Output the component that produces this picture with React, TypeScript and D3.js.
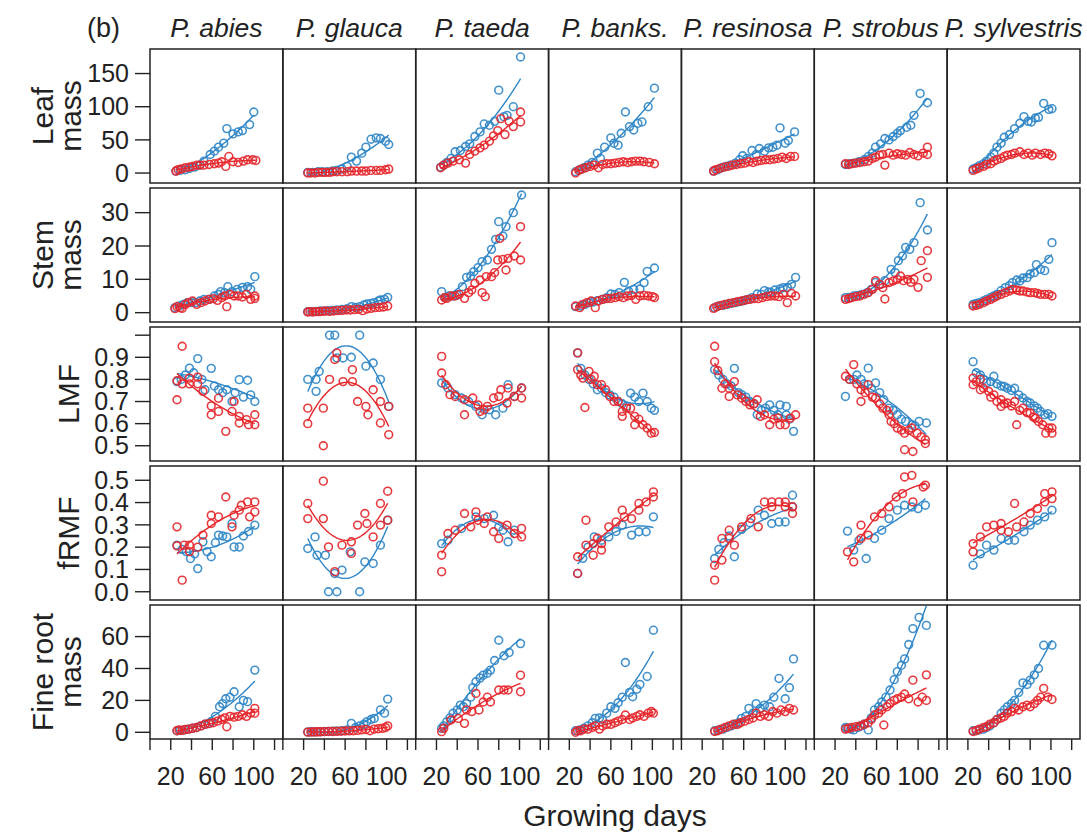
import React from "react";
import * as d3 from "d3";

// ---- Panel grid labels ----
const species = ["P. abies", "P. glauca", "P. taeda", "P. banks.", "P. resinosa", "P. strobus", "P. sylvestris"];
const rowTitles = [["Leaf", "mass"], ["Stem", "mass"], ["LMF"], ["fRMF"], ["Fine root", "mass"]];
const xTicks = [0, 20, 40, 60, 80, 100, 120];
const xTickLabels = [20, 60, 100];
const leafTicks = [0, 50, 100, 150];
const stemTicks = [0, 10, 20, 30];
const lmfTicks = [0.5, 0.6, 0.7, 0.8, 0.9, 1.0];
const frmfTicks = [0.0, 0.1, 0.2, 0.3, 0.4, 0.5];
const rootTicks = [0, 20, 40, 60];

type Pt = [number, number];

// ---- Leaf mass ----
const leafAbiesB: Pt[] = [[25,3],[29,4],[34,5],[38,7],[43,9],[48,12],[52,18],[58,28],[62,33],[66,39],[71,45],[74,67],[80,59],[85,62],[89,64],[96,73],[100,92]];
const leafAbiesR: Pt[] = [[25,3],[27,5],[30,6],[34,8],[38,9],[41,10],[45,12],[48,12],[52,12],[57,13],[62,14],[66,15],[69,17],[73,10],[76,25],[80,17],[85,16],[90,18],[94,20],[99,20],[102,19]];
const leafGlaucaB: Pt[] = [[24,1],[29,1],[34,2],[38,2],[43,2],[48,3],[52,4],[57,6],[62,10],[66,24],[71,18],[76,30],[80,39],[85,51],[90,53],[94,52],[99,48],[102,43]];
const leafGlaucaR: Pt[] = [[24,0],[27,0],[31,0],[34,1],[38,1],[41,1],[45,1],[48,2],[52,2],[57,2],[62,2],[66,3],[71,3],[76,3],[80,3],[85,4],[90,4],[94,4],[99,5],[102,6]];
const leafTaedaB: Pt[] = [[24,9],[27,12],[30,16],[34,22],[38,32],[43,34],[48,40],[52,44],[57,55],[62,62],[66,74],[71,72],[76,78],[80,125],[85,85],[88,87],[94,100],[101,175]];
const leafTaedaR: Pt[] = [[24,8],[27,12],[31,15],[36,18],[42,20],[48,15],[52,28],[57,33],[62,38],[66,42],[71,48],[75,56],[79,64],[82,82],[86,58],[90,78],[94,70],[101,92],[101,77]];
const leafBanksB: Pt[] = [[26,2],[30,5],[34,8],[38,12],[42,16],[47,30],[50,22],[54,39],[60,53],[63,45],[67,42],[70,60],[74,92],[78,70],[82,65],[86,75],[90,77],[96,100],[102,128]];
const leafBanksR: Pt[] = [[26,0],[29,4],[32,6],[36,8],[40,10],[44,12],[48,8],[52,13],[56,14],[60,14],[64,15],[68,16],[72,17],[76,16],[80,17],[84,18],[88,18],[92,17],[97,16],[102,14]];
const leafResinosaB: Pt[] = [[31,3],[35,5],[39,8],[43,10],[47,12],[52,15],[56,20],[59,26],[63,22],[68,34],[72,28],[75,37],[80,33],[84,38],[88,39],[92,42],[95,68],[100,45],[103,49],[109,62]];
const leafResinosaR: Pt[] = [[31,3],[33,5],[37,7],[41,9],[45,10],[49,12],[53,13],[57,14],[61,15],[65,17],[69,16],[73,18],[77,19],[81,20],[85,20],[89,21],[93,22],[97,24],[101,22],[105,25],[109,25]];
const leafStrobusB: Pt[] = [[30,13],[34,14],[38,15],[43,17],[48,20],[52,25],[56,30],[59,39],[64,44],[68,52],[72,50],[76,55],[80,60],[83,64],[89,69],[93,72],[96,87],[102,120],[109,106]];
const leafStrobusR: Pt[] = [[30,14],[33,13],[36,14],[40,15],[44,16],[48,17],[52,18],[56,22],[59,24],[63,27],[66,28],[68,12],[72,30],[76,27],[80,29],[84,28],[88,27],[92,31],[96,28],[100,26],[105,30],[109,39],[109,28]];
const leafSylvestrisB: Pt[] = [[25,6],[28,8],[31,11],[35,14],[38,18],[42,24],[45,30],[48,39],[52,45],[55,54],[60,58],[65,67],[70,75],[74,85],[78,78],[81,77],[85,83],[88,84],[93,105],[98,96],[101,97]];
const leafSylvestrisR: Pt[] = [[25,4],[28,6],[31,8],[35,10],[38,13],[42,14],[45,18],[48,20],[52,22],[55,25],[58,27],[62,28],[65,30],[70,32],[74,28],[78,30],[82,27],[85,30],[90,28],[94,30],[98,29],[101,26]];

// ---- Stem mass ----
const stemAbiesB: Pt[] = [[24,1.5],[28,2],[32,2.5],[36,3],[40,3],[44,3],[48,3.5],[52,4],[57,4],[62,5],[66,5.5],[68,6.3],[72,6],[75,7.8],[79,6.3],[84,7],[89,7.6],[94,7.8],[97,7],[101,10.8]];
const stemAbiesR: Pt[] = [[24,1.2],[26,1.8],[29,1.5],[31,1.3],[34,2.5],[37,3],[41,3.5],[45,2.5],[49,3],[53,3.5],[57,4],[61,4.2],[65,3.7],[69,4.5],[72,5],[74,1.8],[77,5.5],[81,5],[85,5],[89,4.7],[93,5.5],[97,4],[101,4.3],[101,5]];
const stemGlaucaB: Pt[] = [[24,0.3],[28,0.3],[32,0.4],[36,0.5],[40,0.5],[44,0.6],[48,0.7],[52,0.8],[57,1],[62,1.2],[66,1.8],[70,1.6],[74,1.8],[78,2.3],[81,2.6],[85,2.8],[88,3],[92,3.5],[94,3.8],[98,4],[101,4.6]];
const stemGlaucaR: Pt[] = [[24,0.2],[26,0.3],[29,0.2],[32,0.3],[35,0.3],[38,0.4],[41,0.5],[45,0.4],[49,0.5],[53,0.6],[57,0.7],[61,0.8],[65,0.8],[69,0.9],[73,1],[77,0.6],[81,1.1],[85,1.3],[89,1.5],[93,1.6],[97,1.7],[101,2]];
const stemTaedaB: Pt[] = [[25,6.3],[28,4.5],[32,5],[36,5],[40,5.3],[45,7.8],[49,10.6],[53,11],[56,12.3],[60,13.5],[64,15.3],[69,15.8],[73,19],[77,22],[80,27.3],[84,23],[87,25.8],[94,30],[102,35.3]];
const stemTaedaR: Pt[] = [[25,3.8],[28,4.5],[30,4.3],[34,5],[38,5],[42,5.5],[47,4.3],[51,6],[54,6.8],[57,8.8],[62,9.8],[64,6],[67,4.8],[68,10.8],[73,10.8],[76,12],[79,15.8],[81,22.3],[84,16],[87,12.8],[89,16.3],[95,17],[101,25.8],[101,15.8]];
const stemBanksB: Pt[] = [[26,1.8],[31,2],[35,2.5],[39,3],[43,3.2],[47,3.6],[52,4],[56,4.5],[60,5.6],[64,5.5],[68,6],[73,9.1],[77,6.5],[82,7],[88,7.1],[92,9],[95,12.4],[102,13.4]];
const stemBanksR: Pt[] = [[26,2],[30,1.5],[33,2.5],[37,3],[41,3.5],[45,1.5],[48,3.5],[52,4],[56,4.2],[60,4.3],[64,4.5],[68,4.8],[72,4.5],[76,5],[80,5.2],[84,4],[88,5],[92,5.2],[96,5],[100,4.8],[102,4.5]];
const stemResinosaB: Pt[] = [[32,1.5],[36,2],[40,2.2],[44,2.5],[48,2.8],[52,3],[56,3.3],[60,3.6],[64,4],[68,4.5],[73,5.6],[77,5.5],[80,6.6],[84,6.2],[86,6.1],[90,6.8],[95,7.1],[98,7.5],[102,7.6],[106,8.5],[110,10.6]];
const stemResinosaR: Pt[] = [[31,1.3],[34,1.8],[38,2.2],[42,2.5],[46,2.8],[50,3],[54,3.3],[58,3.5],[62,3.8],[66,4],[70,4.2],[74,4.2],[78,4.5],[82,4.8],[86,5],[90,5],[94,4.8],[98,5.5],[102,3],[106,5.8],[110,5]];
const stemStrobusB: Pt[] = [[30,4.5],[34,4.6],[38,5],[42,5.2],[46,5.5],[51,6],[55,7],[59,9.1],[63,8.5],[68,9.6],[74,13],[78,12],[81,15.6],[85,17],[88,19.6],[92,19],[96,21],[102,33],[109,24.8]];
const stemStrobusR: Pt[] = [[30,4],[33,4.2],[36,4.5],[40,4.8],[44,5],[48,5.5],[52,6],[56,7],[59,9.6],[63,8.5],[66,7.5],[68,4.1],[72,9],[76,9.5],[80,10],[83,11],[86,9.6],[90,10],[93,9.1],[96,10],[100,7.6],[103,15.6],[109,18.6],[109,10.6]];
const stemSylvestrisB: Pt[] = [[25,2.5],[28,2.8],[31,3],[35,3.5],[38,4],[42,4.6],[45,5],[48,5.5],[52,6.6],[56,7.5],[60,8.1],[63,9],[67,9.8],[70,9.5],[73,10.4],[77,10.5],[80,11.6],[84,12],[86,14.4],[90,13],[94,12.6],[98,16],[101,21]];
const stemSylvestrisR: Pt[] = [[25,2],[28,2.2],[31,2.5],[35,3],[38,3.5],[42,4],[45,4.5],[48,5],[52,5.5],[56,6],[60,6.5],[63,7],[67,6.8],[70,6.5],[73,6.5],[77,6.2],[80,6],[84,6],[87,5.8],[90,5.5],[94,5.5],[98,5.5],[101,5]];

// ---- Leaf mass fraction ----
const lmfAbiesB: Pt[] = [[26,0.79],[30,0.8],[34,0.82],[38,0.851],[42,0.83],[46,0.894],[50,0.8],[53,0.753],[59,0.85],[62,0.77],[66,0.753],[70,0.74],[74,0.753],[79,0.7],[82,0.74],[86,0.799],[90,0.72],[94,0.796],[97,0.73],[101,0.7]];
const lmfAbiesR: Pt[] = [[26,0.708],[26,0.794],[31,0.95],[31,0.78],[38,0.806],[38,0.78],[46,0.81],[46,0.78],[51,0.746],[59,0.64],[59,0.68],[66,0.655],[66,0.715],[73,0.565],[79,0.655],[81,0.7],[86,0.633],[86,0.603],[93,0.618],[95,0.595],[101,0.595],[101,0.64]];
const lmfGlaucaB: Pt[] = [[24,0.8],[32,0.8],[32,0.746],[35,0.836],[45,1.0],[50,1.0],[52,0.897],[58,0.897],[66,0.9],[74,1.0],[80,0.86],[87,0.874],[94,0.8],[102,0.678]];
const lmfGlaucaR: Pt[] = [[24,0.67],[24,0.6],[39,0.67],[39,0.5],[45,0.8],[50,0.89],[52,0.92],[58,0.79],[67,0.79],[67,0.844],[72,0.7],[80,0.678],[82,0.64],[87,0.753],[94,0.603],[94,0.7],[102,0.55],[102,0.678]];
const lmfTaedaB: Pt[] = [[25,0.784],[31,0.761],[38,0.731],[44,0.716],[51,0.7],[58,0.678],[64,0.64],[71,0.663],[77,0.64],[84,0.67],[89,0.776],[95,0.723],[102,0.761]];
const lmfTaedaR: Pt[] = [[25,0.904],[25,0.829],[29,0.776],[33,0.731],[38,0.723],[47,0.708],[47,0.64],[55,0.716],[60,0.685],[62,0.655],[66,0.663],[69,0.678],[75,0.716],[80,0.723],[82,0.753],[88,0.693],[89,0.761],[95,0.723],[102,0.761],[102,0.716]];
const lmfBanksB: Pt[] = [[28,0.92],[31,0.85],[35,0.82],[39,0.8],[43,0.78],[47,0.753],[51,0.76],[55,0.74],[59,0.73],[63,0.72],[67,0.7],[71,0.69],[75,0.678],[79,0.738],[83,0.72],[87,0.7],[91,0.738],[95,0.7],[99,0.67],[102,0.66]];
const lmfBanksR: Pt[] = [[28,0.92],[28,0.844],[31,0.82],[33,0.806],[35,0.673],[39,0.836],[41,0.8],[44,0.814],[47,0.776],[51,0.776],[55,0.753],[59,0.723],[63,0.7],[67,0.7],[71,0.655],[71,0.633],[75,0.67],[79,0.67],[83,0.633],[83,0.595],[87,0.62],[91,0.595],[95,0.58],[99,0.557],[102,0.56]];
const lmfResinosaB: Pt[] = [[32,0.844],[36,0.82],[40,0.8],[44,0.78],[48,0.77],[51,0.85],[55,0.74],[58,0.731],[62,0.72],[66,0.7],[70,0.69],[73,0.64],[77,0.66],[81,0.67],[85,0.685],[89,0.66],[93,0.64],[95,0.685],[101,0.678],[101,0.64],[104,0.62],[108,0.565]];
const lmfResinosaR: Pt[] = [[32,0.95],[32,0.88],[35,0.84],[39,0.76],[42,0.78],[46,0.76],[46,0.723],[51,0.79],[54,0.73],[58,0.716],[62,0.7],[66,0.685],[70,0.69],[73,0.708],[76,0.633],[80,0.64],[85,0.595],[89,0.62],[93,0.625],[95,0.595],[100,0.595],[105,0.625],[110,0.64]];
const lmfStrobusB: Pt[] = [[30,0.723],[34,0.8],[38,0.8],[41,0.82],[45,0.8],[48,0.78],[52,0.851],[55,0.76],[59,0.784],[63,0.74],[67,0.708],[72,0.67],[76,0.66],[80,0.64],[84,0.62],[88,0.61],[94,0.595],[97,0.59],[101,0.61],[108,0.603]];
const lmfStrobusR: Pt[] = [[30,0.814],[34,0.8],[38,0.867],[41,0.78],[45,0.753],[45,0.7],[49,0.74],[52,0.776],[56,0.72],[59,0.716],[63,0.69],[66,0.67],[70,0.66],[72,0.64],[74,0.61],[77,0.6],[80,0.58],[84,0.57],[87,0.557],[87,0.482],[91,0.57],[94,0.58],[95,0.474],[99,0.557],[103,0.54],[107,0.527],[107,0.51]];
const lmfSylvestrisB: Pt[] = [[25,0.88],[28,0.83],[32,0.82],[35,0.8],[38,0.784],[42,0.79],[45,0.814],[48,0.78],[52,0.77],[55,0.768],[58,0.76],[62,0.75],[65,0.76],[69,0.73],[73,0.716],[77,0.7],[80,0.693],[84,0.68],[87,0.67],[90,0.655],[94,0.64],[97,0.645],[101,0.633]];
const lmfSylvestrisR: Pt[] = [[25,0.806],[25,0.776],[28,0.79],[32,0.8],[32,0.753],[35,0.76],[40,0.746],[42,0.72],[45,0.73],[48,0.7],[52,0.708],[52,0.678],[55,0.69],[58,0.693],[62,0.68],[65,0.7],[67,0.595],[70,0.66],[73,0.67],[77,0.65],[80,0.648],[83,0.63],[85,0.625],[88,0.61],[92,0.595],[95,0.557],[98,0.58],[101,0.557],[101,0.58]];

// ---- Fine root mass fraction ----
const frmfAbiesB: Pt[] = [[26,0.209],[31,0.19],[35,0.18],[39,0.149],[43,0.17],[46,0.104],[51,0.224],[55,0.18],[59,0.157],[63,0.22],[66,0.254],[70,0.25],[74,0.246],[79,0.306],[81,0.201],[86,0.201],[90,0.25],[95,0.27],[101,0.299]];
const frmfAbiesR: Pt[] = [[26,0.291],[26,0.206],[31,0.052],[33,0.209],[38,0.209],[38,0.18],[46,0.2],[51,0.254],[59,0.343],[59,0.306],[66,0.336],[73,0.425],[79,0.291],[81,0.343],[86,0.366],[88,0.388],[94,0.403],[96,0.336],[101,0.403],[101,0.358]];
const frmfGlaucaB: Pt[] = [[24,0.194],[31,0.246],[33,0.164],[41,0.164],[44,0.0],[50,0.082],[52,0.0],[57,0.097],[65,0.179],[74,0.0],[79,0.134],[87,0.127],[94,0.209],[101,0.321]];
const frmfGlaucaR: Pt[] = [[24,0.396],[24,0.328],[39,0.496],[39,0.328],[44,0.201],[50,0.09],[57,0.209],[66,0.172],[66,0.224],[72,0.299],[79,0.351],[81,0.306],[87,0.246],[94,0.396],[94,0.299],[101,0.451],[101,0.321]];
const frmfTaedaB: Pt[] = [[25,0.216],[31,0.231],[44,0.284],[58,0.336],[66,0.328],[75,0.343],[80,0.291],[84,0.276],[89,0.224],[95,0.276]];
const frmfTaedaR: Pt[] = [[25,0.09],[25,0.164],[31,0.261],[38,0.276],[47,0.351],[53,0.291],[58,0.358],[60,0.321],[66,0.306],[69,0.336],[75,0.269],[80,0.239],[88,0.299],[95,0.261],[102,0.284],[102,0.246]];
const frmfBanksB: Pt[] = [[28,0.082],[33,0.15],[38,0.2],[44,0.246],[51,0.231],[58,0.246],[65,0.27],[71,0.299],[80,0.254],[87,0.269],[94,0.269],[101,0.336]];
const frmfBanksR: Pt[] = [[28,0.157],[28,0.082],[36,0.321],[36,0.209],[43,0.164],[43,0.216],[47,0.24],[51,0.216],[51,0.187],[58,0.291],[65,0.313],[71,0.366],[73,0.336],[80,0.328],[87,0.396],[87,0.366],[94,0.403],[101,0.448],[101,0.425]];
const frmfResinosaB: Pt[] = [[32,0.149],[36,0.19],[41,0.22],[46,0.25],[51,0.157],[58,0.28],[66,0.31],[74,0.366],[80,0.343],[87,0.306],[94,0.313],[100,0.313],[107,0.433],[107,0.381]];
const frmfResinosaR: Pt[] = [[32,0.052],[32,0.119],[39,0.142],[39,0.239],[46,0.276],[46,0.239],[51,0.209],[58,0.291],[67,0.328],[74,0.291],[80,0.403],[87,0.403],[87,0.381],[94,0.403],[100,0.403],[100,0.381],[107,0.351],[107,0.381]];
const frmfStrobusB: Pt[] = [[32,0.272],[38,0.187],[43,0.23],[50,0.149],[58,0.239],[65,0.276],[72,0.328],[80,0.366],[87,0.388],[94,0.38],[100,0.373],[107,0.388]];
const frmfStrobusR: Pt[] = [[32,0.179],[38,0.134],[45,0.239],[45,0.299],[52,0.254],[58,0.336],[65,0.351],[72,0.381],[79,0.425],[85,0.44],[87,0.515],[94,0.522],[95,0.403],[105,0.47],[107,0.478]];
const frmfSylvestrisB: Pt[] = [[25,0.119],[32,0.17],[38,0.209],[45,0.187],[52,0.239],[59,0.231],[65,0.231],[74,0.269],[80,0.299],[87,0.321],[94,0.336],[101,0.366]];
const frmfSylvestrisR: Pt[] = [[25,0.216],[25,0.179],[32,0.246],[38,0.291],[45,0.299],[52,0.306],[52,0.276],[59,0.269],[65,0.396],[67,0.291],[74,0.313],[80,0.351],[87,0.373],[94,0.44],[94,0.403],[101,0.448],[101,0.418]];

// ---- Fine root mass ----
const rootAbiesB: Pt[] = [[26,1],[29,1.2],[33,1.5],[37,2],[41,2.5],[45,3],[49,4],[53,5],[57,5.5],[59,6.7],[63,10],[67,16],[70,18],[73,21],[77,22],[81,25.4],[86,16],[90,20],[94,19.2],[101,39]];
const rootAbiesR: Pt[] = [[26,1],[28,1.5],[31,1.2],[34,1.8],[37,2],[41,2.5],[45,3],[49,4],[53,5],[57,5.5],[61,6],[65,7],[69,8],[72,9],[74,3.5],[77,10],[81,9.5],[85,10],[89,11],[93,10],[97,12],[101,12],[101,15]];
const rootGlaucaB: Pt[] = [[24,0.2],[28,0.3],[32,0.3],[36,0.4],[40,0.5],[44,0.6],[48,0.7],[52,0.8],[57,1],[62,1.5],[66,5.6],[70,3],[74,4],[78,5],[81,6.7],[85,8],[88,8.7],[94,14],[98,12],[101,20.8]];
const rootGlaucaR: Pt[] = [[24,0.1],[27,0.2],[30,0.2],[33,0.3],[36,0.3],[40,0.4],[44,0.5],[48,0.5],[52,0.6],[56,0.7],[60,0.8],[64,0.9],[68,1],[72,1.2],[76,1.5],[80,1.8],[84,1],[88,2],[92,2.2],[96,2.5],[99,3],[101,4]];
const rootTaedaB: Pt[] = [[25,2.5],[27,4],[30,6.7],[33,9],[36,11.9],[40,14],[43,17],[46,16],[49,18],[53,22],[55,28],[58,31.7],[62,34],[65,35.8],[69,37],[72,39],[76,45],[80,57.7],[85,48],[90,50],[101,55.6]];
const rootTaedaR: Pt[] = [[25,0.4],[27,2.5],[34,7.7],[41,8.7],[47,5.6],[49,14],[54,13],[58,24.4],[61,14],[65,19],[69,22],[72,19],[80,26.5],[85,26.5],[89,26.5],[101,35.8],[101,25.4]];
const rootBanksB: Pt[] = [[26,1],[30,1.5],[34,2.5],[38,4],[42,6],[45,8.75],[49,9],[52,8.1],[56,12],[60,16],[64,15],[67,18.5],[71,22],[74,43.75],[78,25],[81,22.3],[85,27],[88,30],[95,35],[101,64]];
const rootBanksR: Pt[] = [[26,0],[28,1],[31,1],[34,2],[38,2],[42,3],[45,4],[49,2],[52,4],[56,5],[60,5],[64,6],[67,7],[71,8],[74,10.8],[78,8],[81,9],[85,10],[88,11],[92,10],[96,12],[99,13],[101,12]];
const rootResinosaB: Pt[] = [[32,1],[36,1.5],[40,2],[44,3],[48,4],[52,5],[55,6],[58,8.75],[62,10],[65,15],[69,12],[72,18],[76,15],[80,17],[85,16],[89,22],[94,33.75],[100,21],[104,28],[108,46]];
const rootResinosaR: Pt[] = [[32,0.5],[35,1],[38,2],[42,3],[46,4],[50,5],[54,5],[57,6],[61,7],[65,8],[69,9],[72,12],[76,10],[80,11],[84,10],[88,13],[92,12],[96,14],[100,13],[104,15],[108,14]];
const rootStrobusB: Pt[] = [[30,3],[32,2.5],[35,2],[38,1.5],[42,3],[45,4],[48,5],[52,1.5],[55,9],[58,14],[62,16],[65,19],[69,22],[73,26.5],[77,33],[80,38],[84,42],[87,46],[91,55],[95,65],[101,72],[108,67]];
const rootStrobusR: Pt[] = [[30,2],[33,2.5],[36,3],[40,3.5],[44,4],[48,5],[52,6],[55,8],[58,10.8],[62,12],[65,14],[67,4.6],[70,16],[73,18],[77,20],[80,21],[84,22],[87,24],[91,21],[95,32.7],[100,19],[104,22],[108,36],[108,20]];
const rootSylvestrisB: Pt[] = [[25,1],[28,1.2],[31,1.5],[35,2],[38,3],[41,4],[45,6],[48,8],[52,11.9],[55,14],[58,16],[62,18],[65,20],[69,25],[73,31],[77,30],[80,32.7],[84,36],[88,40],[93,54.6],[101,54.6]];
const rootSylvestrisR: Pt[] = [[25,0.5],[28,1],[31,2],[35,3],[38,3.5],[41,5],[45,6],[48,8],[52,9],[55,10],[58,12],[62,13],[65,15],[69,14],[73,16],[77,17],[80,16],[84,18],[87,20],[90,22],[93,27.5],[97,22],[101,20.6]];

// Each row: its y domain, ticks and the [blue, red] series of every species
const rows = [
  { title: rowTitles[0], domain: [-15, 187], ticks: leafTicks, fmt: (v: number) => String(v),
    series: [[leafAbiesB, leafAbiesR], [leafGlaucaB, leafGlaucaR], [leafTaedaB, leafTaedaR], [leafBanksB, leafBanksR], [leafResinosaB, leafResinosaR], [leafStrobusB, leafStrobusR], [leafSylvestrisB, leafSylvestrisR]] },
  { title: rowTitles[1], domain: [-2.8, 37.4], ticks: stemTicks, fmt: (v: number) => String(v),
    series: [[stemAbiesB, stemAbiesR], [stemGlaucaB, stemGlaucaR], [stemTaedaB, stemTaedaR], [stemBanksB, stemBanksR], [stemResinosaB, stemResinosaR], [stemStrobusB, stemStrobusR], [stemSylvestrisB, stemSylvestrisR]] },
  { title: rowTitles[2], domain: [0.431, 1.037], ticks: lmfTicks, fmt: (v: number) => (v >= 0.999 ? "" : v.toFixed(1)),
    series: [[lmfAbiesB, lmfAbiesR], [lmfGlaucaB, lmfGlaucaR], [lmfTaedaB, lmfTaedaR], [lmfBanksB, lmfBanksR], [lmfResinosaB, lmfResinosaR], [lmfStrobusB, lmfStrobusR], [lmfSylvestrisB, lmfSylvestrisR]] },
  { title: rowTitles[3], domain: [-0.037, 0.564], ticks: frmfTicks, fmt: (v: number) => v.toFixed(1),
    series: [[frmfAbiesB, frmfAbiesR], [frmfGlaucaB, frmfGlaucaR], [frmfTaedaB, frmfTaedaR], [frmfBanksB, frmfBanksR], [frmfResinosaB, frmfResinosaR], [frmfStrobusB, frmfStrobusR], [frmfSylvestrisB, frmfSylvestrisR]] },
  { title: rowTitles[4], domain: [-4.2, 79.8], ticks: rootTicks, fmt: (v: number) => String(v),
    series: [[rootAbiesB, rootAbiesR], [rootGlaucaB, rootGlaucaR], [rootTaedaB, rootTaedaR], [rootBanksB, rootBanksR], [rootResinosaB, rootResinosaR], [rootStrobusB, rootStrobusR], [rootSylvestrisB, rootSylvestrisR]] },
];

const BLUE = "#2f86c6";
const RED = "#e5262b";
const INK = "#222";

// Least-squares polynomial fit, returns a function of x
function polyfit(pts: Pt[], deg: number) {
  const n = deg + 1;
  const c0 = 64, s = 40;
  const M = Array.from({ length: n }, () => new Array(n + 1).fill(0));
  for (const [x, y] of pts) {
    const t = (x - c0) / s;
    const pw = Array.from({ length: n }, (_, k) => Math.pow(t, k));
    for (let i = 0; i < n; i++) {
      for (let j = 0; j < n; j++) M[i][j] += pw[i] * pw[j];
      M[i][n] += pw[i] * y;
    }
  }
  for (let i = 0; i < n; i++) {
    let p = i;
    for (let r = i + 1; r < n; r++) if (Math.abs(M[r][i]) > Math.abs(M[p][i])) p = r;
    [M[i], M[p]] = [M[p], M[i]];
    for (let r = 0; r < n; r++) {
      if (r === i) continue;
      const f = M[r][i] / M[i][i];
      for (let k = i; k <= n; k++) M[r][k] -= f * M[i][k];
    }
  }
  const coef = M.map((row, i) => row[n] / row[i]);
  return (x: number) => {
    const t = (x - c0) / s;
    return coef.reduce((acc, c, k) => acc + c * Math.pow(t, k), 0);
  };
}

const LEFT = 150, RIGHT = 1080, TOP = 49, ROW_H = 134, GAP = 5;
const COL_W = (RIGHT - LEFT) / species.length;
const FONT = "'Liberation Sans', Arial, Helvetica, sans-serif";

function Panel({ ri, ci }: { ri: number; ci: number }) {
  const row = rows[ri];
  const x0 = LEFT + ci * COL_W;
  const y0 = TOP + ri * (ROW_H + GAP);
  const x = d3.scaleLinear().domain([0, 128]).range([x0, x0 + COL_W]);
  const y = d3.scaleLinear().domain(row.domain).range([y0 + ROW_H, y0]);
  const clipId = `clip-${ri}-${ci}`;
  const [blue, red] = row.series[ci];
  const line = d3.line<Pt>().x((d) => x(d[0])).y((d) => y(d[1]));
  const fitPath = (pts: Pt[]) => {
    const f = polyfit(pts, 2);
    const [lo, hi] = d3.extent(pts, (d) => d[0]) as [number, number];
    const grid: Pt[] = d3.range(0, 61).map((i) => {
      const xv = lo + ((hi - lo) * i) / 60;
      return [xv, f(xv)];
    });
    return line(grid) || "";
  };
  return (
    <g>
      <defs>
        <clipPath id={clipId}>
          <rect x={x0} y={y0} width={COL_W} height={ROW_H} />
        </clipPath>
      </defs>
      <g clipPath={`url(#${clipId})`}>
        {[{ pts: blue, col: BLUE }, { pts: red, col: RED }].map(({ pts, col }, k) => (
          <g key={k}>
            {pts.map((d, i) => (
              <circle key={i} cx={x(d[0])} cy={y(d[1])} r={3.9} fill="none" stroke={col} strokeWidth={1.6} strokeOpacity={0.9} />
            ))}
            <path d={fitPath(pts)} fill="none" stroke={col} strokeWidth={1.4} />
          </g>
        ))}
      </g>
      <rect x={x0} y={y0} width={COL_W} height={ROW_H} fill="none" stroke={INK} strokeWidth={1.5} />
      {ci === 0 &&
        row.ticks.map((t) => (
          <g key={t}>
            <line x1={LEFT - 15} x2={LEFT} y1={y(t)} y2={y(t)} stroke={INK} strokeWidth={1.4} />
            <text x={LEFT - 21} y={y(t)} dy="0.35em" textAnchor="end" fontSize={25} fontFamily={FONT} fill={INK}>
              {row.fmt(t)}
            </text>
          </g>
        ))}
      {ri === rows.length - 1 &&
        xTicks.map((t) => (
          <g key={t}>
            <line x1={x(t)} x2={x(t)} y1={y0 + ROW_H} y2={y0 + ROW_H + 11} stroke={INK} strokeWidth={1.4} />
            {xTickLabels.includes(t) && (
              <text x={x(t)} y={y0 + ROW_H + 46} textAnchor="middle" fontSize={25} fontFamily={FONT} fill={INK}>
                {t}
              </text>
            )}
          </g>
        ))}
    </g>
  );
}

export default function App() {
  const bottom = TOP + rows.length * ROW_H + (rows.length - 1) * GAP;
  return (
    <svg width={1087} height={835} style={{ position: "absolute", left: 0, top: 0, background: "#fff" }}>
      <rect width={1087} height={835} fill="#fff" />
      <text x={87} y={37} fontSize={27} fontFamily={FONT} fill={INK}>(b)</text>
      {species.map((s, ci) => (
        <text key={s} x={LEFT + (ci + 0.5) * COL_W} y={37} textAnchor="middle" fontSize={26.5} fontStyle="italic" fontFamily={FONT} fill={INK}>
          {s}
        </text>
      ))}
      {rows.map((row, ri) => {
        const cy = TOP + ri * (ROW_H + GAP) + ROW_H / 2;
        const lines = row.title;
        return (
          <text key={ri} transform={`translate(${lines.length === 1 ? 68 : 57},${cy}) rotate(-90)`} textAnchor="middle" fontSize={30} fontFamily={FONT} fill={INK}>
            {lines.map((l, i) => (
              <tspan key={i} x={0} dy={i === 0 ? (lines.length === 1 ? "0.35em" : "-0.12em") : "0.92em"}>{l}</tspan>
            ))}
          </text>
        );
      })}
      {rows.map((_, ri) => species.map((__, ci) => <Panel key={`${ri}-${ci}`} ri={ri} ci={ci} />))}
      <text x={(LEFT + RIGHT) / 2} y={bottom + 87} textAnchor="middle" fontSize={30} fontFamily={FONT} fill={INK}>
        Growing days
      </text>
    </svg>
  );
}
